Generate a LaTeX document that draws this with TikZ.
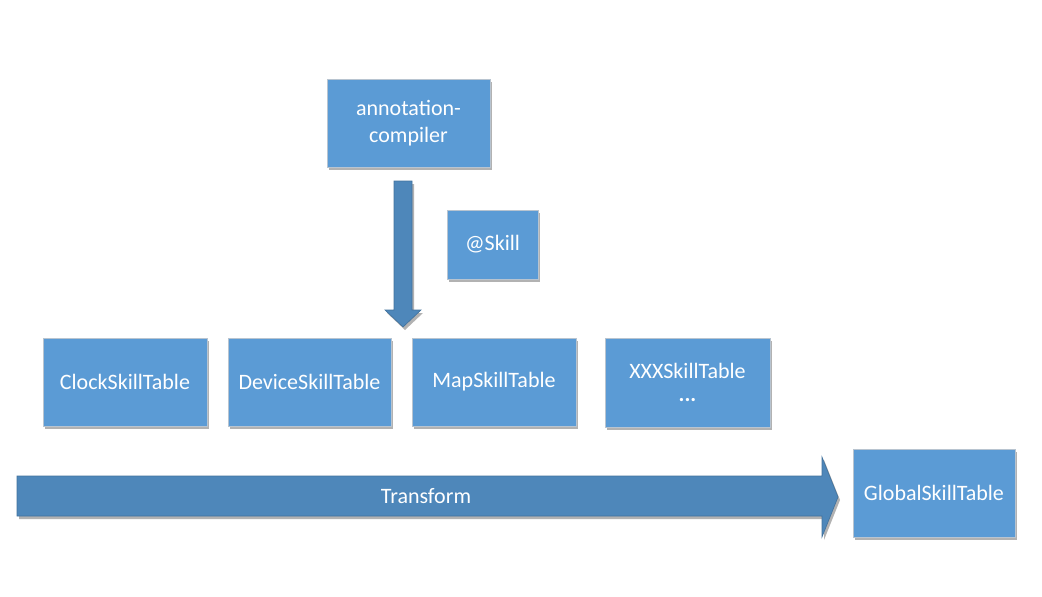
\documentclass[tikz,border=0pt]{standalone}
\usepackage{fontspec}
\setmainfont{Carlito}
\usetikzlibrary{shadows}
\definecolor{boxfill}{HTML}{5B9BD5}
\definecolor{boxline}{HTML}{B8C4D0}
\definecolor{arrowfill}{HTML}{4E87BA}
\definecolor{arrowline}{HTML}{41719C}
\tikzset{
  lbl/.style={text=white, align=center, font=\fontsize{22}{27}\selectfont},
  box/.style={lbl, fill=boxfill, draw=boxline, line width=0.8pt, inner sep=0pt,
    drop shadow={shadow xshift=2pt, shadow yshift=-3pt, fill=black, opacity=0.3}},
  bigarrow/.style={fill=arrowfill, draw=arrowline, line width=0.6pt,
    drop shadow={shadow xshift=2pt, shadow yshift=-3pt, fill=black, opacity=0.3}},
}
\begin{document}
\begin{tikzpicture}[x=1pt,y=-1pt]
\useasboundingbox (0,0) rectangle (1042,597);
% down arrow
\draw[bigarrow] (394,181) -- (412,181) -- (412,310) -- (421,310) -- (403,327) -- (385,310) -- (394,310) -- cycle;
% transform arrow
\draw[bigarrow] (17,476) -- (822,476) -- (822,457) -- (838,497) -- (822,537) -- (822,516) -- (17,516) -- cycle;
\node[lbl] (tr) at (426,496) {Transform};
\node[box, minimum width=163pt, minimum height=88pt] (ac) at (408.5,123) {annotation-\\compiler};
\node[box, minimum width=91pt, minimum height=69pt] (sk) at (492.5,244.5) {@Skill};
\node[box, minimum width=164pt, minimum height=88pt] (clock) at (125,382) {ClockSkillTable};
\node[box, minimum width=163pt, minimum height=88pt] (dev) at (309.5,382) {DeviceSkillTable};
\node[box, minimum width=164pt, minimum height=88pt] (map) at (494,382) {MapSkillTable};
\node[box, minimum width=165pt, minimum height=89pt] (xxx) at (687.5,382.5) {XXXSkillTable\\[-4pt]\textbf{...}};
\node[box, minimum width=162pt, minimum height=88pt] (glob) at (934,493) {GlobalSkillTable};
\end{tikzpicture}
\end{document}
